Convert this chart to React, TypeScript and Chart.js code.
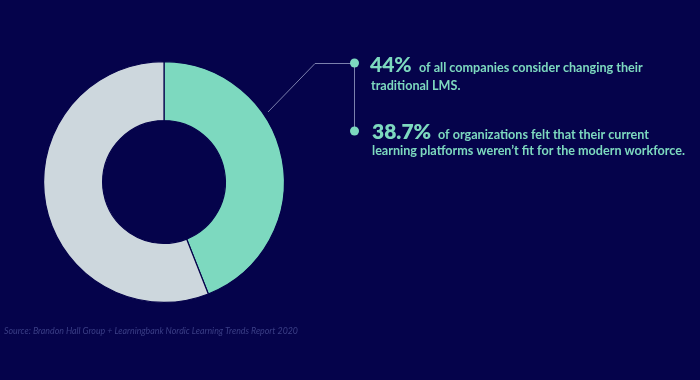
import React, { useEffect, useRef } from "react";
import { Chart, registerables } from "chart.js";

Chart.register(...registerables);

const categories = ["Consider changing LMS", "Other"];
const values = [44, 56];
const colors = ["#7dd9bf", "#cdd7dd"];
const headline1 = "44%";
const text1a = "of all companies consider changing their";
const text1b = "traditional LMS.";
const headline2 = "38.7%";
const text2a = "of organizations felt that their current";
const text2b = "learning platforms weren\u2019t fit for the modern workforce.";
const sourceText = "Source: Brandon Hall Group + Learningbank Nordic Learning Trends Report 2020";

const BG = "#05034b";
const TEAL = "#7dd9bf";

const annotations = {
  id: "annotations",
  beforeDraw(chart: any) {
    const { ctx, width, height } = chart;
    ctx.save();
    ctx.fillStyle = BG;
    ctx.fillRect(0, 0, width, height);
    ctx.restore();
  },
  afterDraw(chart: any) {
    const { ctx } = chart;
    ctx.save();
    // leader lines
    ctx.strokeStyle = "#7b80ad";
    ctx.lineWidth = 1;
    ctx.beginPath();
    ctx.moveTo(268, 112);
    ctx.lineTo(315, 63.5);
    ctx.lineTo(354, 63.5);
    ctx.moveTo(354.5, 63);
    ctx.lineTo(354.5, 131);
    ctx.stroke();
    ctx.fillStyle = TEAL;
    for (const y of [63, 131]) {
      ctx.beginPath();
      ctx.arc(354.5, y, 4.5, 0, Math.PI * 2);
      ctx.fill();
    }
    // texts
    ctx.fillStyle = TEAL;
    ctx.textBaseline = "alphabetic";
    ctx.textAlign = "left";
    ctx.font = "900 21px Lato";
    ctx.fillText(headline1, 370, 72);
    ctx.font = "700 12.6px Lato";
    ctx.fillText(text1a, 419, 72);
    ctx.fillText(text1b, 371, 89.5);
    ctx.font = "800 21px Lato";
    ctx.fillText(headline2, 372, 139);
    ctx.font = "700 12.6px Lato";
    ctx.fillText(text2a, 438, 139);
    ctx.fillText(text2b, 372, 154.5);
    // source
    ctx.fillStyle = "#3b3f86";
    ctx.font = "italic 8.8px Lato";
    ctx.fillText(sourceText, 4, 333.5);
    ctx.restore();
  },
};

export default function App() {
  const ref = useRef<HTMLCanvasElement | null>(null);
  useEffect(() => {
    if (!ref.current) return;
    const chart = new Chart(ref.current, {
      type: "doughnut",
      data: {
        labels: categories,
        datasets: [
          {
            data: values,
            backgroundColor: colors,
            borderColor: BG,
            borderWidth: 1.2,
            hoverOffset: 0,
          },
        ],
      },
      options: {
        animation: false,
        responsive: false,
        cutout: "51%",
        layout: { padding: { left: 43, right: 415, top: 61, bottom: 77 } },
        plugins: { legend: { display: false }, tooltip: { enabled: false } },
      },
      plugins: [annotations],
    });
    return () => chart.destroy();
  }, []);
  return (
    <div style={{ position: "fixed", left: 0, top: 0, width: 700, height: 380, background: BG }}>
      <canvas ref={ref} width={700} height={380} style={{ display: "block", width: 700, height: 380 }} />
    </div>
  );
}
